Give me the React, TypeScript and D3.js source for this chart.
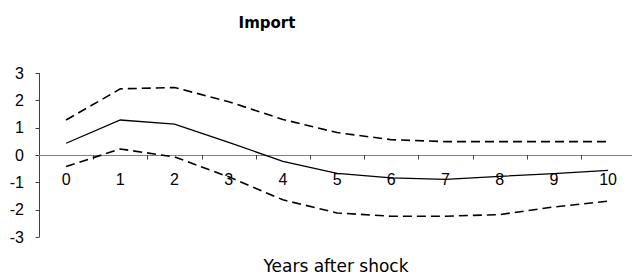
import { line, scaleBand, scaleLinear } from "d3";

const years = [0, 1, 2, 3, 4, 5, 6, 7, 8, 9, 10];
const response = [0.43, 1.28, 1.13, 0.46, -0.23, -0.67, -0.84, -0.89, -0.78, -0.68, -0.56];
const upper = [1.28, 2.42, 2.47, 1.95, 1.3, 0.82, 0.56, 0.49, 0.49, 0.49, 0.49];
const lower = [-0.42, 0.22, -0.07, -0.8, -1.64, -2.12, -2.24, -2.24, -2.18, -1.9, -1.69];
const yTicks = [-3, -2, -1, 0, 1, 2, 3];

const W = 632;
const H = 276;

export default function App() {
  const x = scaleBand<number>().domain(years).range([39, 39 + 11 * 54.2]).padding(0);
  const y = scaleLinear().domain([-3, 3]).range([237, 73]);
  const cx = (i: number) => (x(years[i]) ?? 0) + x.bandwidth() / 2;

  const path = line<number>()
    .x((_, i) => cx(i))
    .y((d) => y(d));

  return (
    <svg
      width={W}
      height={H}
      style={{ position: "absolute", left: 0, top: 0, background: "#fff" }}
    >
      <text
        x={267}
        y={28}
        textAnchor="middle"
        fontFamily="DejaVu Sans"
        fontWeight="bold"
        fontSize={15}
      >
        Import
      </text>

      {/* y axis */}
      <line x1={39.5} x2={39.5} y1={y(3)} y2={y(-3)} stroke="#404040" />
      {yTicks.map((t) => (
        <g key={t}>
          <line x1={35.5} x2={39.5} y1={Math.round(y(t)) + 0.5} y2={Math.round(y(t)) + 0.5} stroke="#404040" />
          <text
            x={24}
            y={y(t) + 5.5}
            textAnchor="end"
            fontFamily="Liberation Sans"
            fontSize={16}
          >
            {t}
          </text>
        </g>
      ))}

      {/* x axis at zero */}
      <line x1={39} x2={W} y1={Math.round(y(0)) + 0.5} y2={Math.round(y(0)) + 0.5} stroke="#808080" />
      {years.map((yr) => {
        const bx = Math.round((x(yr) ?? 0) + x.bandwidth()) + 0.5;
        return (
          <line key={yr} x1={bx} x2={bx} y1={y(0)} y2={y(0) + 4.5} stroke="#404040" />
        );
      })}
      {years.map((yr, i) => (
        <text
          key={yr}
          x={cx(i)}
          y={185}
          textAnchor="middle"
          fontFamily="Liberation Sans"
          fontSize={16}
        >
          {yr}
        </text>
      ))}

      <path d={path(upper) ?? ""} fill="none" stroke="#000" strokeWidth={1.6} strokeDasharray="9,5" />
      <path d={path(lower) ?? ""} fill="none" stroke="#000" strokeWidth={1.6} strokeDasharray="9,5" />
      <path d={path(response) ?? ""} fill="none" stroke="#000" strokeWidth={1.3} />

      <text
        x={336}
        y={272}
        textAnchor="middle"
        fontFamily="DejaVu Sans"
        fontSize={17}
      >
        Years after shock
      </text>
    </svg>
  );
}
